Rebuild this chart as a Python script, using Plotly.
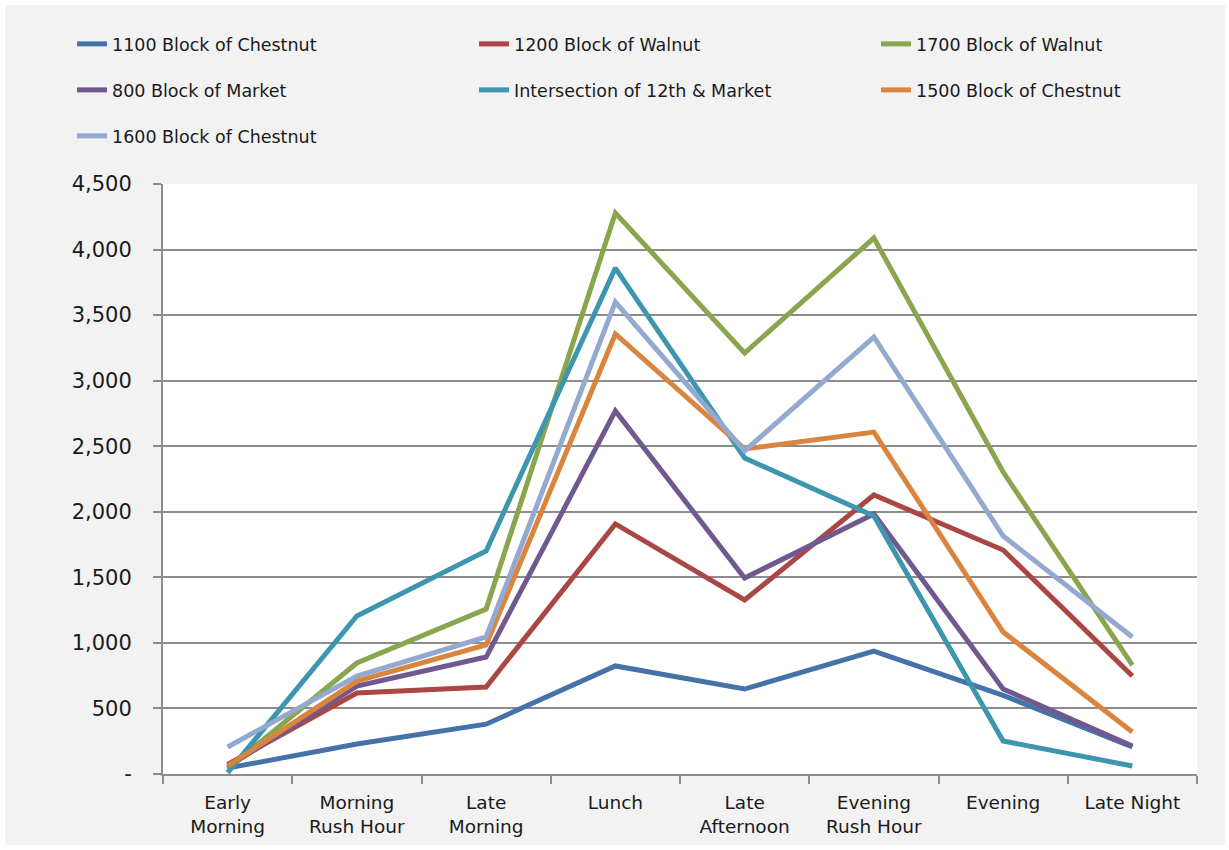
import plotly.graph_objects as go

categories = ["Early<br>Morning", "Morning<br>Rush Hour", "Late<br>Morning", "Lunch",
              "Late<br>Afternoon", "Evening<br>Rush Hour", "Evening", "Late Night"]

chestnut_1100 = [45, 229, 380, 824, 648, 938, 600, 206]
walnut_1200 = [72, 618, 664, 1907, 1327, 2128, 1708, 747]
walnut_1700 = [40, 847, 1258, 4279, 3211, 4088, 2303, 831]
market_800 = [55, 671, 892, 2769, 1495, 1983, 648, 213]
intersection_12th = [10, 1205, 1701, 3859, 2410, 1968, 252, 61]
chestnut_1500 = [60, 709, 984, 3356, 2479, 2608, 1083, 320]
chestnut_1600 = [206, 747, 1045, 3600, 2464, 3333, 1815, 1045]

series_names = ["1100 Block of Chestnut", "1200 Block of Walnut", "1700 Block of Walnut",
                "800 Block of Market", "Intersection of 12th & Market", "1500 Block of Chestnut",
                "1600 Block of Chestnut"]
series_values = [chestnut_1100, walnut_1200, walnut_1700, market_800,
                 intersection_12th, chestnut_1500, chestnut_1600]
colors = ["#4572A7", "#AA4643", "#89A54E", "#71588F", "#3D96AE", "#DB843D", "#93A9CF"]

tick_vals = [0, 500, 1000, 1500, 2000, 2500, 3000, 3500, 4000, 4500]
tick_text = ["-", "500", "1,000", "1,500", "2,000", "2,500", "3,000", "3,500", "4,000", "4,500"]

W, H = 1229, 850
L, R, T, B = 163, 32, 184, 76
pw, ph = W - L - R, H - T - B

font_family = "DejaVu Sans, sans-serif"
text_color = "#1a1a1a"

# legend layout: 3 columns, rows of 3/3/1; one legend per entry
legend_cols_text_x = [112, 514, 916]
legend_rows_y = [44, 90, 136]

fig = go.Figure()
legend_layout = {}
for i, (name, vals, col) in enumerate(zip(series_names, series_values, colors)):
    lid = "legend" if i == 0 else f"legend{i + 1}"
    fig.add_trace(go.Scatter(x=categories, y=vals, name=name, mode="lines",
                             line=dict(color=col, width=5), legend=lid,
                             showlegend=True))
    r, c = divmod(i, 3)
    legend_layout[lid] = dict(
        orientation="h", xref="container", yref="container",
        xanchor="left", yanchor="middle",
        x=(legend_cols_text_x[c] - 40) / W, y=1 - legend_rows_y[r] / H,
        bgcolor="rgba(0,0,0,0)", borderwidth=0,
        font=dict(family=font_family, size=17.5, color=text_color))

# grey chart background (with thin white border) and white plot area
fig.add_shape(type="rect", xref="paper", yref="paper", layer="below",
              x0=(5 - L) / pw, x1=(1225 - L) / pw,
              y0=(H - B - 845) / ph, y1=(H - B - 5) / ph,
              fillcolor="#f2f2f2", line=dict(width=0))
fig.add_shape(type="rect", xref="paper", yref="paper", layer="below",
              x0=0, x1=1, y0=0, y1=1, fillcolor="white", line=dict(width=0))

fig.update_layout(
    width=W, height=H,
    showlegend=True,
    margin=dict(l=L, r=R, t=T, b=B, autoexpand=False),
    paper_bgcolor="white",
    plot_bgcolor="white",
    font=dict(family=font_family, color=text_color),
    xaxis=dict(type="category", showgrid=False, showline=True, linecolor="#8c8c8c",
               linewidth=2, ticks="outside", tickson="boundaries", ticklen=8,
               tickcolor="#8c8c8c", tickwidth=2, ticklabelstandoff=11,
               tickfont=dict(size=18.5, family=font_family, color=text_color),
               range=[-0.5, 7.5], fixedrange=True),
    yaxis=dict(range=[0, 4500], tickvals=tick_vals, ticktext=tick_text,
               showgrid=True, gridcolor="#8c8c8c", gridwidth=2,
               showline=True, linecolor="#8c8c8c", linewidth=2,
               ticks="outside", ticklen=8, tickcolor="#8c8c8c", tickwidth=2,
               ticklabelstandoff=17,
               tickfont=dict(size=21, family=font_family, color=text_color),
               zeroline=False, fixedrange=True),
    **legend_layout,
)

fig.write_html("out.html", config={"displayModeBar": False},
               post_script="document.body.style.margin='0';document.body.style.padding='0';")
